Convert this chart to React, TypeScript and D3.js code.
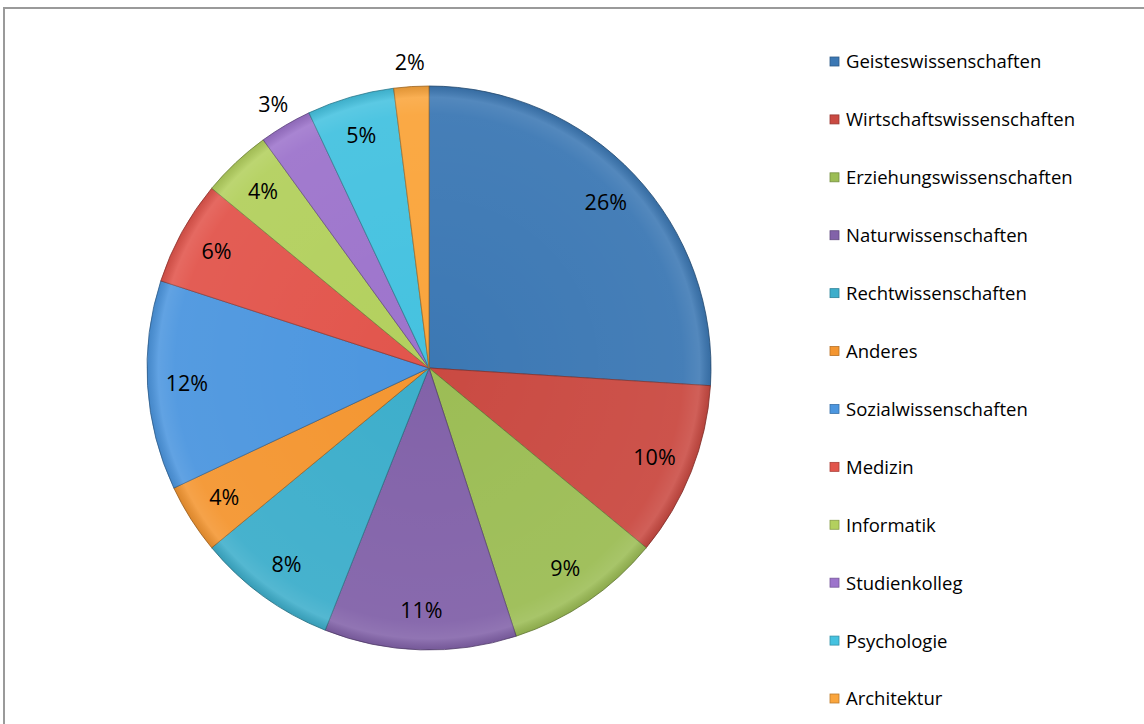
import React, { useEffect, useRef } from "react";
import * as d3 from "d3";

const categories = [
  "Geisteswissenschaften",
  "Wirtschaftswissenschaften",
  "Erziehungswissenschaften",
  "Naturwissenschaften",
  "Rechtwissenschaften",
  "Anderes",
  "Sozialwissenschaften",
  "Medizin",
  "Informatik",
  "Studienkolleg",
  "Psychologie",
  "Architektur",
];

const values = [26, 10, 9, 11, 8, 4, 12, 6, 4, 3, 5, 2];

const colors = [
  "#3C78B4",
  "#CA4A42",
  "#9CBD55",
  "#8262A9",
  "#3DAECB",
  "#F49631",
  "#4C96DF",
  "#E2554C",
  "#B3D05E",
  "#9D74CC",
  "#45C2E0",
  "#FAA53C",
];

// slices too thin for an inside label get it outside
const outsideLabels = ["Studienkolleg", "Architektur"];

const width = 1144;
const height = 724;

const App = () => {
  const ref = useRef<SVGSVGElement>(null);

  useEffect(() => {
    const svg = d3.select(ref.current);
    svg.selectAll("*").remove();

    // chart frame
    svg
      .append("rect")
      .attr("x", 4)
      .attr("y", 8)
      .attr("width", width + 20)
      .attr("height", height + 20)
      .attr("fill", "#fff")
      .attr("stroke", "#9a9a9a")
      .attr("stroke-width", 2);

    const cx = 429;
    const cy = 368;
    const radius = 282;

    const data = categories.map((name, i) => ({ name, value: values[i] }));
    const total = d3.sum(values);

    const pie = d3
      .pie<{ name: string; value: number }>()
      .sort(null)
      .value((d) => d.value);
    const arc = d3
      .arc<d3.PieArcDatum<{ name: string; value: number }>>()
      .innerRadius(0)
      .outerRadius(radius);
    const labelArc = d3
      .arc<d3.PieArcDatum<{ name: string; value: number }>>()
      .innerRadius(radius * 0.86)
      .outerRadius(radius * 0.86);
    const outerArc = d3
      .arc<d3.PieArcDatum<{ name: string; value: number }>>()
      .innerRadius(radius * 1.085)
      .outerRadius(radius * 1.085);

    const defs = svg.append("defs");
    const shade = defs
      .append("radialGradient")
      .attr("id", "shade")
      .attr("gradientUnits", "userSpaceOnUse")
      .attr("cx", 0)
      .attr("cy", 0)
      .attr("r", radius);
    shade.append("stop").attr("offset", "0%").attr("stop-color", "#fff").attr("stop-opacity", 0);
    shade.append("stop").attr("offset", "90%").attr("stop-color", "#fff").attr("stop-opacity", 0.05);
    shade.append("stop").attr("offset", "96%").attr("stop-color", "#fff").attr("stop-opacity", 0.12);
    shade.append("stop").attr("offset", "100%").attr("stop-color", "#000").attr("stop-opacity", 0.1);

    const g = svg.append("g").attr("transform", `translate(${cx},${cy})`);
    const arcs = pie(data);

    g.selectAll("path.slice")
      .data(arcs)
      .enter()
      .append("path")
      .attr("class", "slice")
      .attr("d", arc)
      .attr("fill", (d, i) => colors[i])
      .attr("stroke", (d, i) => d3.color(colors[i])!.darker(1.2).formatHex())
      .attr("stroke-width", 0.8)
      .attr("stroke-linejoin", "round");

    g.selectAll("path.shade")
      .data(arcs)
      .enter()
      .append("path")
      .attr("class", "shade")
      .attr("d", arc)
      .attr("fill", "url(#shade)")
      .style("pointer-events", "none");

    g.selectAll("text.label")
      .data(arcs)
      .enter()
      .append("text")
      .attr("class", "label")
      .attr("transform", (d) => {
        const p = outsideLabels.includes(d.data.name) ? outerArc.centroid(d) : labelArc.centroid(d);
        return `translate(${p[0]},${p[1]})`;
      })
      .attr("text-anchor", "middle")
      .attr("dy", "0.35em")
      .style("font-family", "'Open Sans', sans-serif")
      .style("font-size", "21.5px")
      .attr("fill", "#000")
      .text((d) => `${Math.round((d.data.value / total) * 100)}%`);

    // legend
    const legendY = d3
      .scalePoint<string>()
      .domain(categories)
      .range([62, 699]);

    const legend = svg
      .append("g")
      .selectAll("g")
      .data(categories)
      .enter()
      .append("g")
      .attr("transform", (d) => `translate(830,${legendY(d)})`);

    legend
      .append("rect")
      .attr("x", 0)
      .attr("y", -5)
      .attr("width", 9)
      .attr("height", 9)
      .attr("fill", (d, i) => colors[i])
      .attr("stroke", (d, i) => d3.color(colors[i])!.darker(0.8).formatHex())
      .attr("stroke-width", 0.8);

    legend
      .append("text")
      .attr("x", 16)
      .attr("dy", "0.35em")
      .style("font-family", "'Open Sans', sans-serif")
      .style("font-size", "18.5px")
      .attr("fill", "#000")
      .text((d) => d);
  }, []);

  return (
    <svg
      ref={ref}
      width={width}
      height={height}
      style={{ position: "absolute", left: 0, top: 0, display: "block" }}
    />
  );
};

export default App;
